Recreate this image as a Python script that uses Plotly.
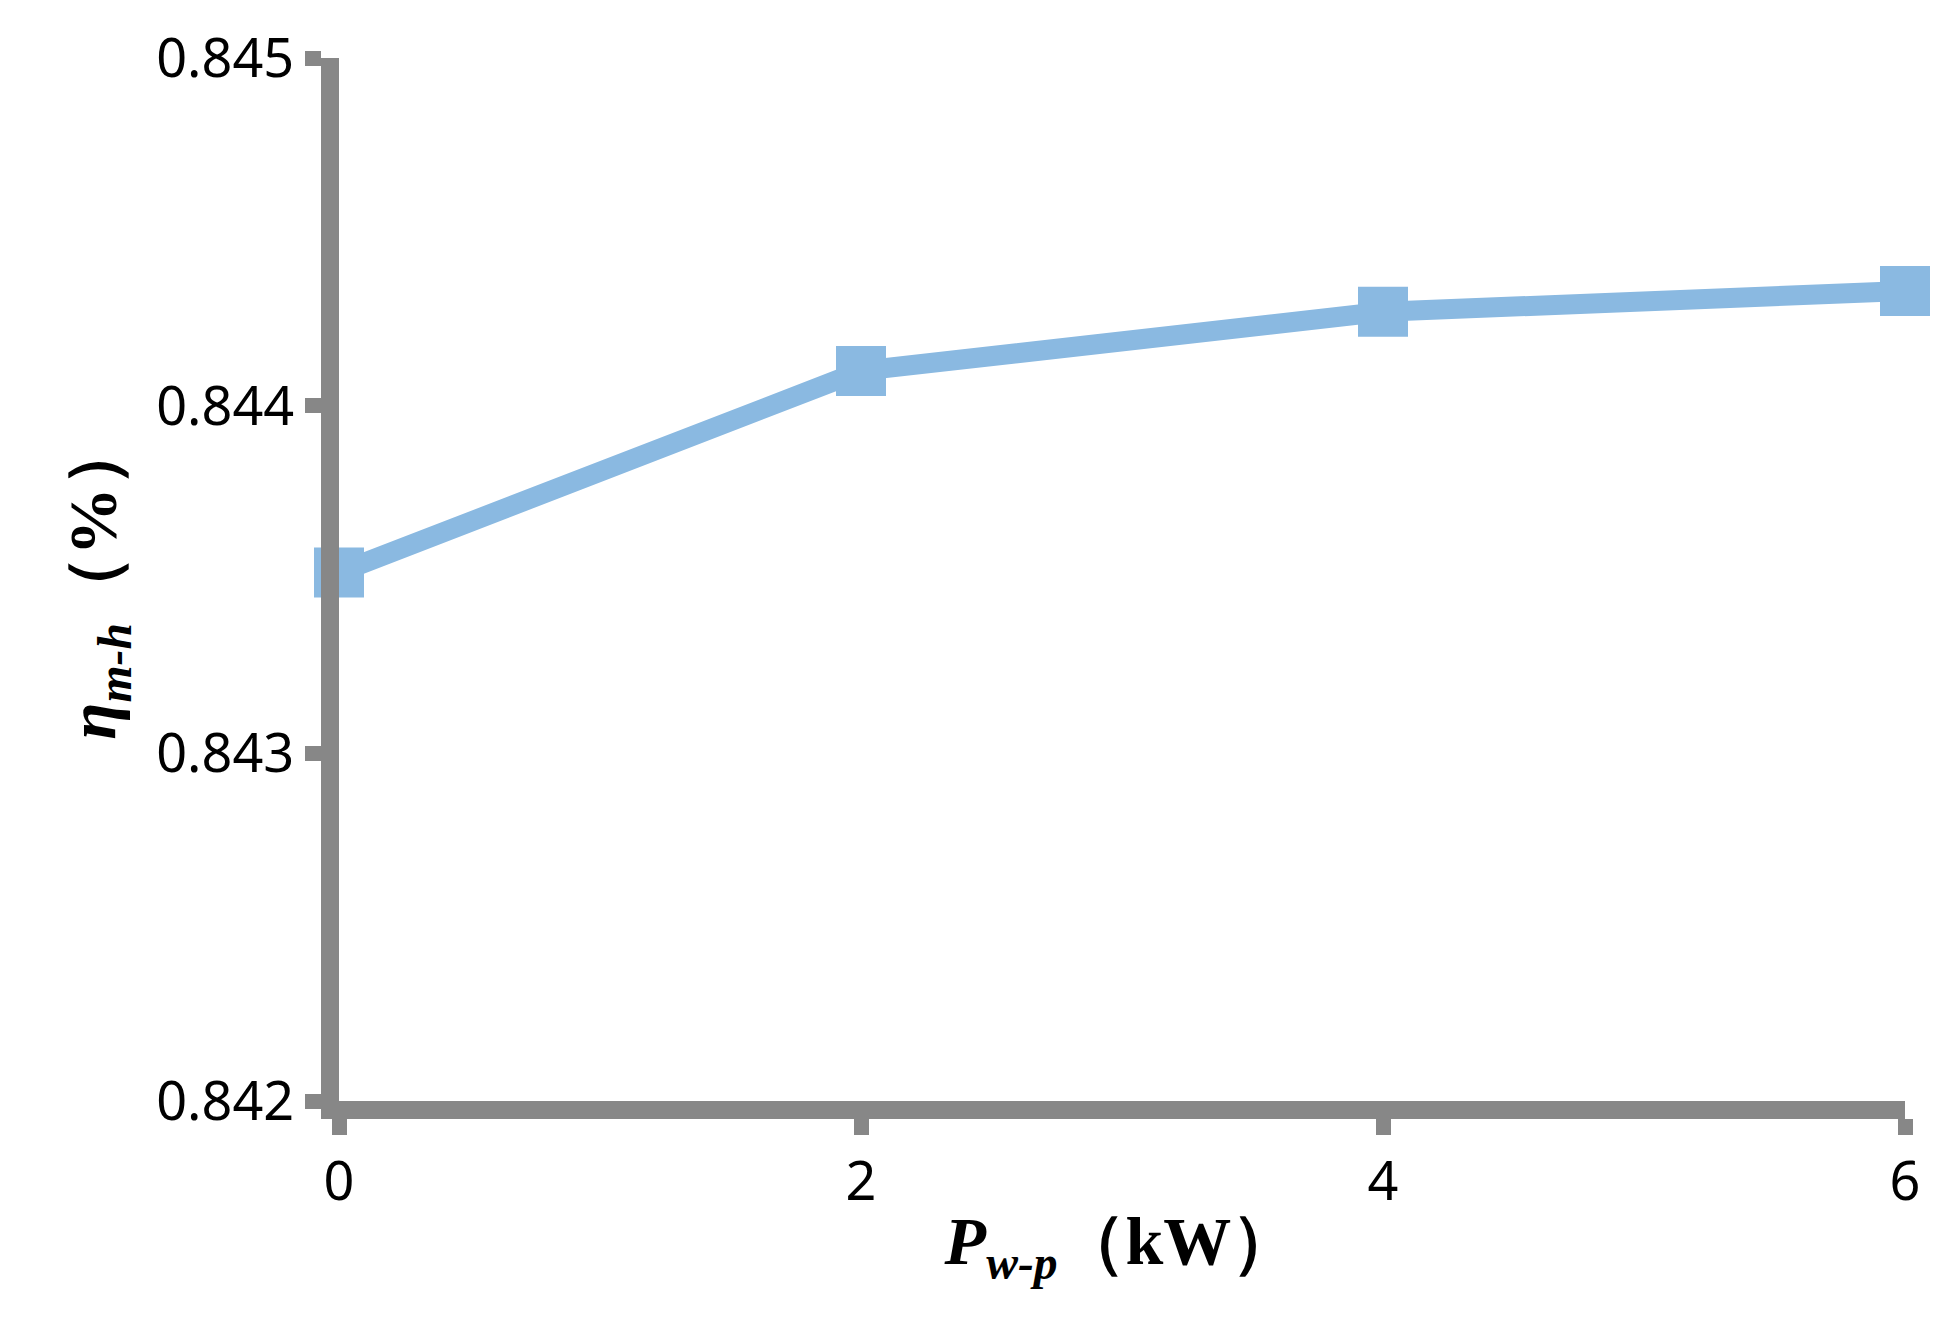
import plotly.graph_objects as go

x_vals = [0, 2, 4, 6]
y_vals = [0.84352, 0.84410, 0.84427, 0.84433]
x_ticks = [0, 2, 4, 6]
y_ticks = [0.842, 0.843, 0.844, 0.845]

gray = "#878787"
blue = "#8AB9E1"

fig = go.Figure(go.Scatter(
    x=x_vals, y=y_vals, mode="lines+markers",
    line=dict(color=blue, width=20),
    marker=dict(symbol="square", size=50, color=blue),
    cliponaxis=False, showlegend=False))

fig.update_layout(
    width=1947, height=1329, paper_bgcolor="white", plot_bgcolor="white",
    margin=dict(l=331, r=50, t=50, b=236),
    font=dict(family="Noto Sans", size=54, color="black"),
    xaxis=dict(range=[0, 6], tickvals=x_ticks, ticktext=[str(v) for v in x_ticks],
               showgrid=False, zeroline=False, showline=True, linecolor=gray, linewidth=18,
               ticks="outside", tickcolor=gray, tickwidth=15, ticklen=16,
               title=dict(text="<b><i>P<sub>w-p</sub></i>（kW）</b>",
                          font=dict(family="Liberation Serif", size=68), standoff=10)),
    yaxis=dict(range=[0.842, 0.845], tickvals=y_ticks, ticktext=[f"{v:.3f}" for v in y_ticks],
               showgrid=False, zeroline=False, showline=True, linecolor=gray, linewidth=18,
               ticks="outside", tickcolor=gray, tickwidth=15, ticklen=16,
               title=dict(text="<b><i>η<sub>m-h</sub></i>（%）</b>",
                          font=dict(family="Liberation Serif", size=68), standoff=25)),
)
fig.write_html("out.html")
